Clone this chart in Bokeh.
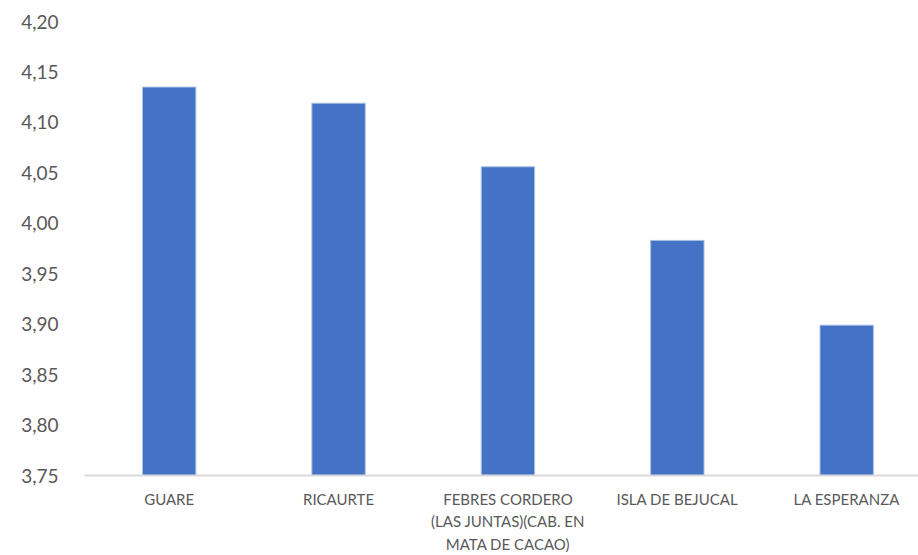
from bokeh.plotting import figure
from bokeh.models import Range1d, FixedTicker, CustomJSTickFormatter
from bokeh.embed import file_html
from bokeh.resources import INLINE

categories = ["GUARE", "RICAURTE", "FEBRES CORDERO\n(LAS JUNTAS)(CAB. EN\nMATA DE CACAO)",
              "ISLA DE BEJUCAL", "LA ESPERANZA"]
values = [4.135, 4.119, 4.056, 3.983, 3.899]
y_ticks = [3.75, 3.80, 3.85, 3.90, 3.95, 4.00, 4.05, 4.10, 4.15, 4.20]
y_min, y_max = 3.75, 4.20

xs = list(range(len(categories)))

p = figure(width=918, height=555, output_backend="svg", toolbar_location=None,
           x_range=Range1d(-0.5, 4.424), y_range=Range1d(y_min, y_max),
           min_border_left=84, min_border_right=0, min_border_top=21, min_border_bottom=10)
p.outline_line_color = None
p.background_fill_color = "white"
p.border_fill_color = "white"

p.vbar(x=xs, top=values, bottom=y_min, width=0.315, fill_color="#4472C4",
       line_color="#A9BEE6", line_width=1)

p.xgrid.visible = False
p.ygrid.visible = False

p.yaxis.ticker = FixedTicker(ticks=y_ticks)
p.yaxis.formatter = CustomJSTickFormatter(code="return tick.toFixed(2).replace('.', ',');")
p.yaxis.axis_line_color = None
p.yaxis.major_tick_line_color = None
p.yaxis.minor_tick_line_color = None
p.yaxis.major_tick_out = 0
p.yaxis.major_label_standoff = 26
p.yaxis.major_label_text_font = "Lato"
p.yaxis.major_label_text_font_size = "19px"
p.yaxis.major_label_text_color = "#595959"

p.xaxis.ticker = FixedTicker(ticks=xs)
p.xaxis.major_label_overrides = {i: c for i, c in zip(xs, categories)}
p.xaxis.axis_line_color = "#D9D9D9"
p.xaxis.axis_line_width = 2
p.xaxis.major_tick_line_color = None
p.xaxis.minor_tick_line_color = None
p.xaxis.major_tick_out = 0
p.xaxis.major_label_standoff = 14
p.xaxis.major_label_text_font = "Lato"
p.xaxis.major_label_text_font_size = "15px"
p.xaxis.major_label_text_color = "#595959"
p.xaxis.major_label_text_line_height = 1.25

open("out.html", "w").write(file_html(p, INLINE))
